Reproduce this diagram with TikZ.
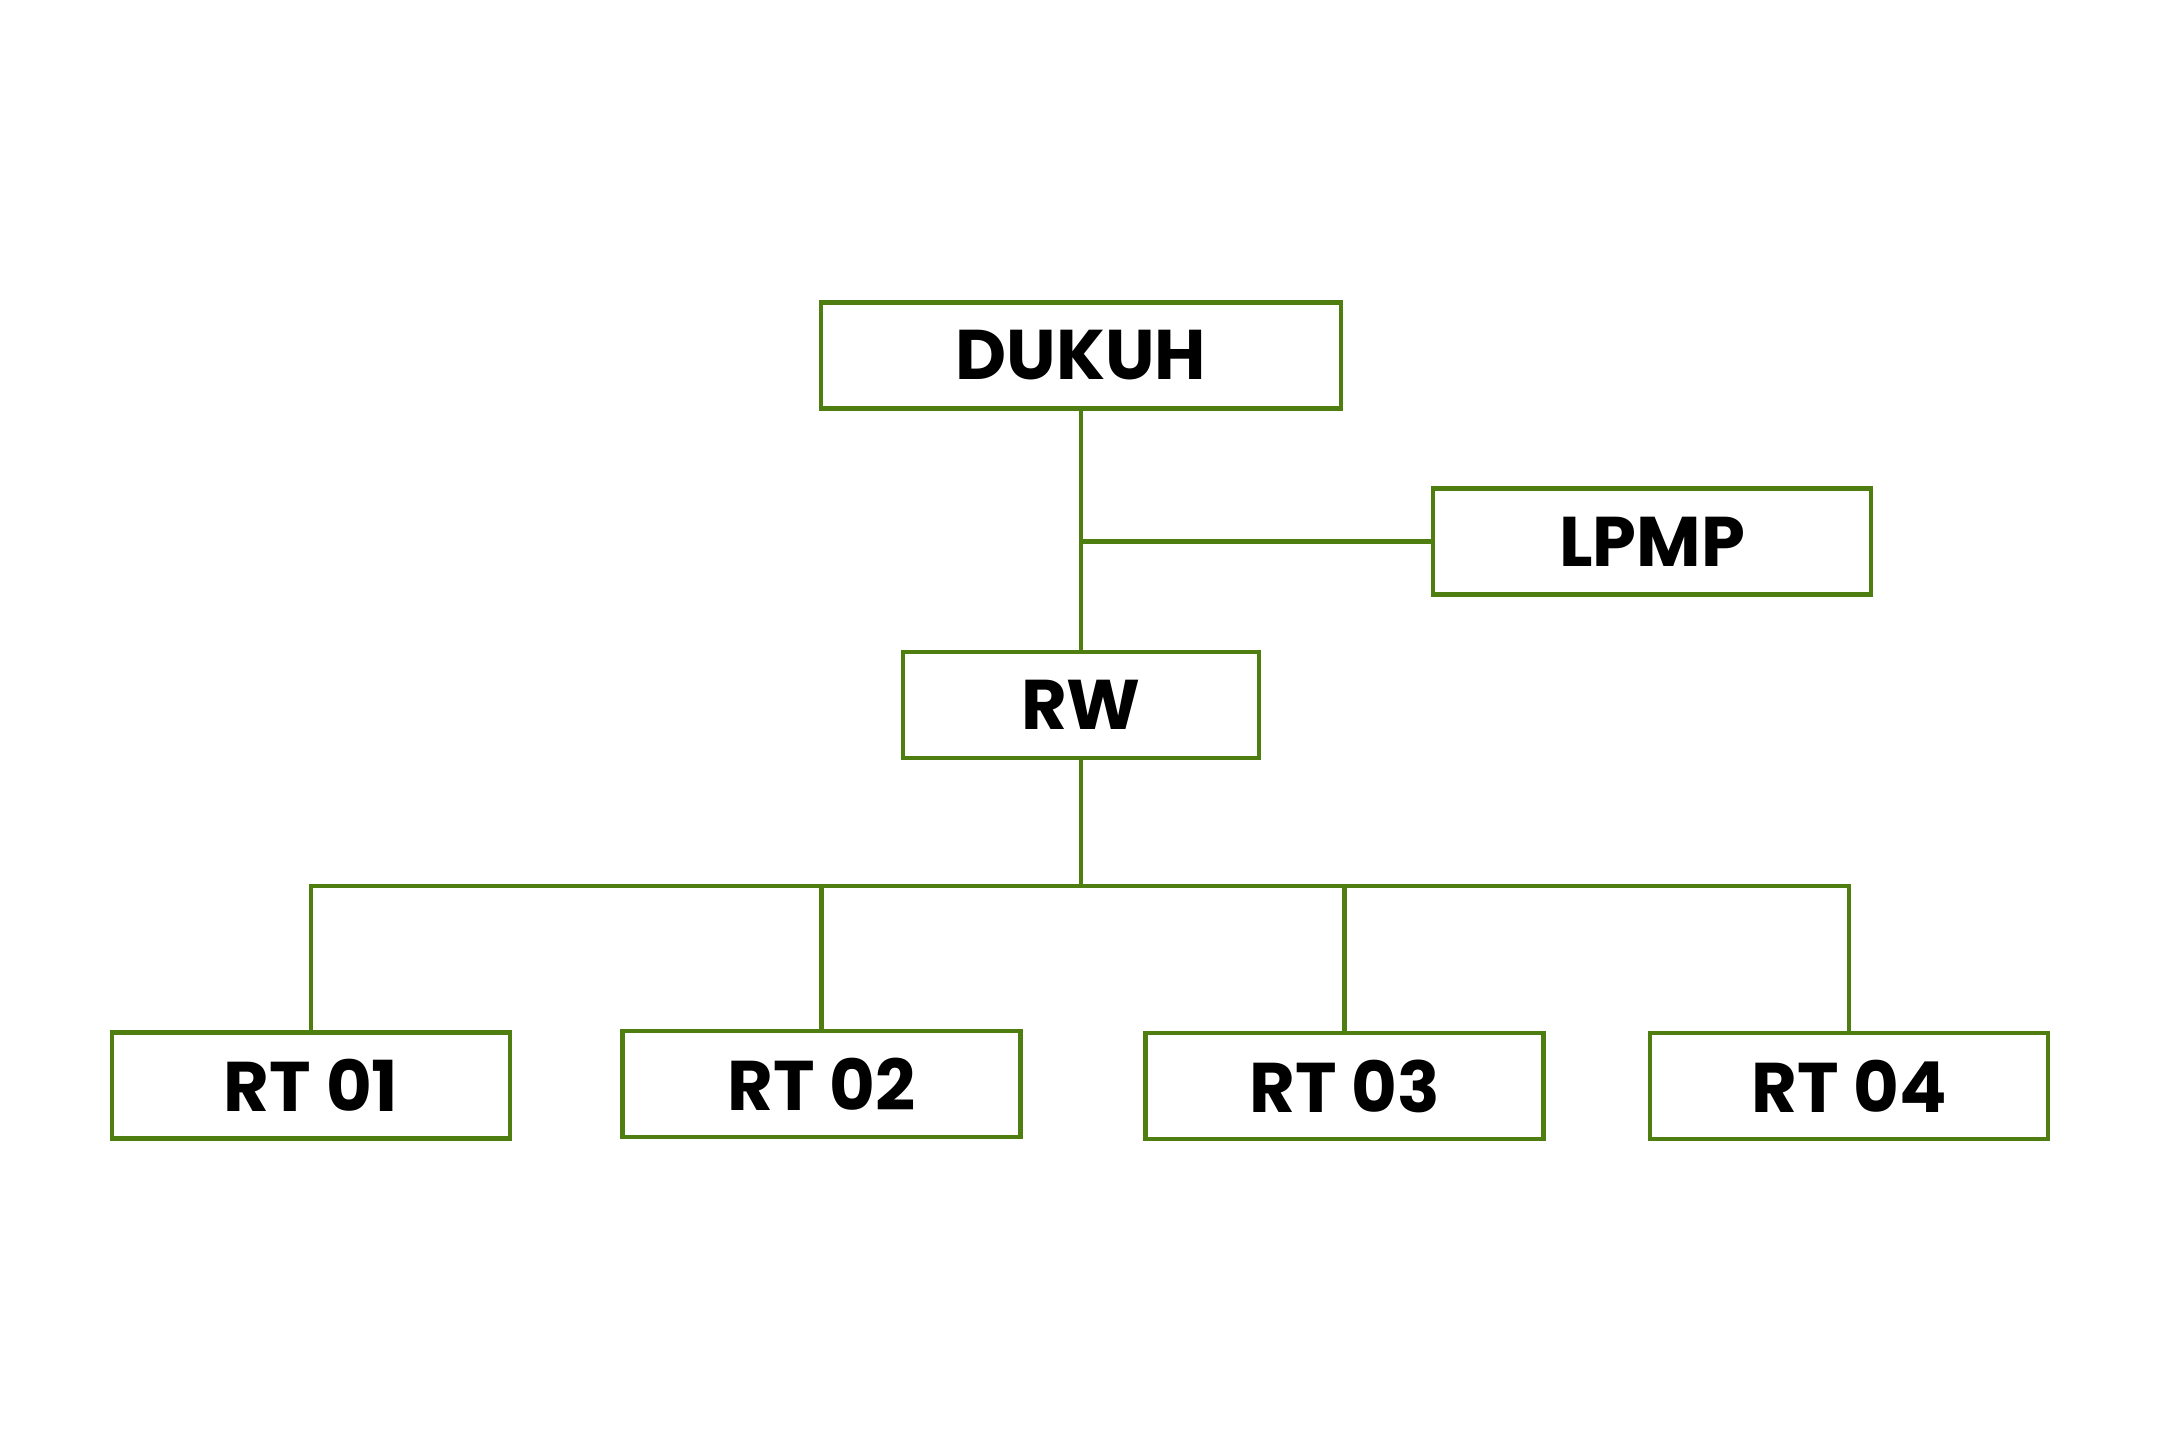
\documentclass[tikz,border=0pt]{standalone}
\usepackage{fontspec}
\setmainfont{Poppins}
\usetikzlibrary{positioning}
\definecolor{leaf}{RGB}{78,125,16}

\begin{document}
\begin{tikzpicture}[every node/.style={rectangle, draw=leaf, line width=1.3pt, minimum height=1.06cm, align=center, font=\fontsize{20}{24}\selectfont\bfseries},
					link/.style={draw=leaf, line width=1.3pt}]
					\useasboundingbox (0,0) rectangle (21.6,14.4);
					\node[minimum width=5.2cm] (dukuh) at (10.81,10.845) {DUKUH};
					\node[minimum width=3.56cm, below=2.39cm of dukuh] (rw) {RW};
					\node[minimum width=4.38cm] (lpmp) at (16.52,8.985) {LPMP};
					\node[minimum width=3.98cm] (rt1) at (3.11,3.545) {RT 01};
					\node[minimum width=3.98cm] (rt2) at (8.215,3.56) {RT 02};
					\node[minimum width=3.98cm] (rt3) at (13.445,3.54) {RT 03};
					\node[minimum width=3.98cm] (rt4) at (18.49,3.54) {RT 04};
					\coordinate (bus) at (10.81,5.54);
					\draw[link] (dukuh) -- (rw);
					\draw[link] (lpmp.west) -- (lpmp.west -| dukuh.south);
					\draw[link] (rw) -- (bus);
					\draw[link] (rt1.north) |- (bus) -| (rt4.north);
					\foreach \k in {2,3}
						\draw[link] (rt\k.north) -- (rt\k.north |- bus);
				\end{tikzpicture}
\end{document}
